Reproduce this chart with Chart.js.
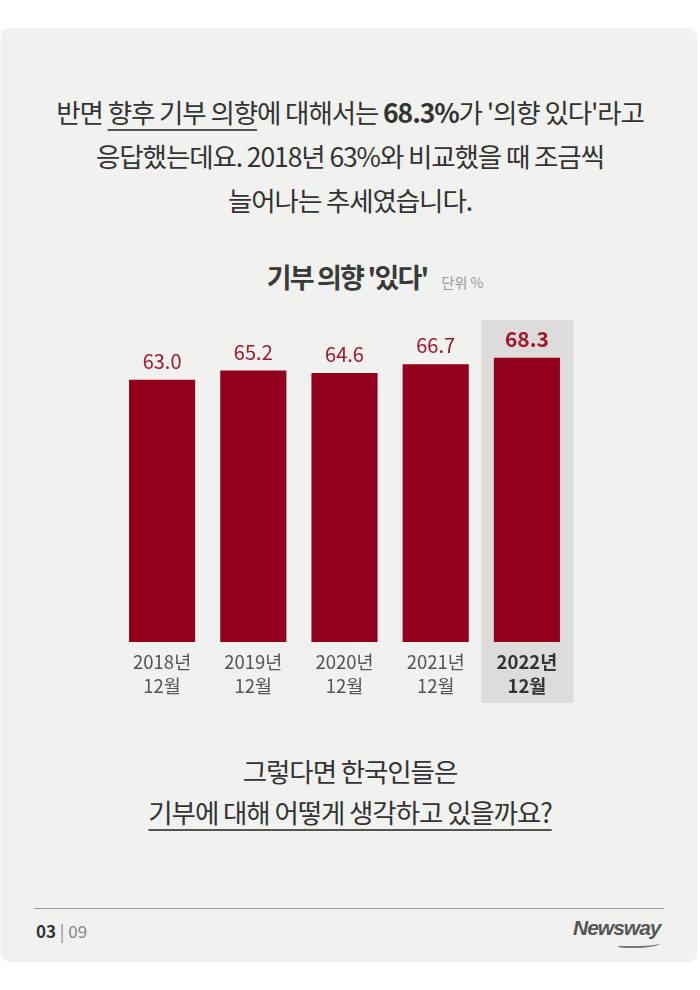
<!DOCTYPE html>
<html><head><meta charset="utf-8">
<script src="https://cdn.jsdelivr.net/npm/chart.js@4"></script>
<style>
html,body{margin:0;padding:0;background:#fff;width:700px;height:990px;overflow:hidden;font-family:"Noto Sans CJK KR","Noto Sans",sans-serif;}
#card{position:absolute;left:1px;top:28px;width:696px;height:934px;border-radius:10px;background:#f1f1ef;box-shadow:0 0 2px rgba(0,0,0,0.08);}
.t{position:absolute;left:0;width:700px;text-align:center;color:#333;}
u{text-decoration:underline;text-decoration-color:#555;text-decoration-thickness:1.5px;text-underline-offset:6px;}
#intro{top:90px;font-size:26.5px;line-height:44px;letter-spacing:-1.1px;}
#ctitle{top:257px;font-size:27px;font-weight:700;letter-spacing:-1.8px;color:#3a3a3a;padding-left:50px;box-sizing:border-box;}
#ctitle span{font-size:14px;font-weight:400;color:#999;margin-left:14px;letter-spacing:0;}
#outro{top:750px;font-size:26.5px;line-height:41px;letter-spacing:-1.1px;}
#foot{position:absolute;left:34px;top:908px;width:630px;border-top:1px solid #999;}
#page{position:absolute;left:36px;top:918px;font-size:17px;color:#888;}
#page b{color:#333;}
#logo{position:absolute;left:573px;top:916px;font-size:21px;font-weight:700;font-style:italic;color:#555;letter-spacing:-1px;font-family:"Liberation Sans",sans-serif;}
#swoosh{position:absolute;left:618px;top:940px;width:42px;height:6px;border-bottom:2px solid #777;border-radius:0 0 60% 20%;}
#wrap{position:absolute;left:0;top:290px;width:700px;height:430px;}
</style></head>
<body>
<div id="card"></div>
<div class="t" id="intro">반면 <u>향후 기부 의향</u>에 대해서는 <b>68.3%</b>가 '의향 있다'라고<br>응답했는데요. 2018년 63%와 비교했을 때 조금씩<br>늘어나는 추세였습니다.</div>
<div class="t" id="ctitle">기부 의향 '있다'<span>단위 %</span></div>
<div id="wrap"><canvas id="c" width="700" height="430"></canvas></div>
<div class="t" id="outro">그렇다면 한국인들은<br><u>기부에 대해 어떻게 생각하고 있을까요?</u></div>
<div id="foot"></div>
<div id="page"><b>03</b> | 09</div>
<div id="logo">Newsway</div>
<div id="swoosh"></div>
<script>
const categories = [["2018년","12월"],["2019년","12월"],["2020년","12월"],["2021년","12월"],["2022년","12월"]];
const values = [63.0, 65.2, 64.6, 66.7, 68.3];
const valueLabels = ["63.0","65.2","64.6","66.7","68.3"];
const highlightIndex = 4;

const barColor = '#92001d';
const labelColor = '#a3162f';

const highlightPlugin = {
  id:'hl',
  beforeDraw(chart){
    const {ctx, scales:{x}, chartArea} = chart;
    const cx = x.getPixelForValue(highlightIndex);
    const w = (chartArea.right - chartArea.left)/categories.length;
    ctx.save();
    ctx.fillStyle = '#dcdcdb';
    ctx.fillRect(cx - w/2, chartArea.top + 11, w + 1, chartArea.bottom - chartArea.top - 11 + 61);
    ctx.restore();
  }
};
const labelPlugin = {
  id:'vl',
  afterDatasetsDraw(chart){
    const {ctx} = chart;
    const meta = chart.getDatasetMeta(0);
    ctx.save();
    ctx.textAlign='center';
    ctx.textBaseline='alphabetic';
    meta.data.forEach((bar,i)=>{
      const hi = i===highlightIndex;
      ctx.font = (hi?'700 21px':'400 20px') + ' "Noto Sans CJK KR","Noto Sans",sans-serif';
      ctx.fillStyle = labelColor;
      ctx.fillText(valueLabels[i], bar.x, bar.y - 11);
    });
    ctx.restore();
  }
};

new Chart(document.getElementById('c'), {
  type:'bar',
  data:{labels:categories, datasets:[{data:values, backgroundColor:barColor, barPercentage:0.725, categoryPercentage:1.0}]},
  options:{
    responsive:false, animation:false,
    layout:{padding:{left:116.5, right:127.5, top:19, bottom:0}},
    plugins:{legend:{display:false}, tooltip:{enabled:false}},
    scales:{
      y:{display:false, min:0, max:80},
      x:{
        grid:{display:false, drawTicks:false}, border:{display:false},
        afterFit(s){ s.height = 78; },
        ticks:{padding:8, color:(c)=>c.index===highlightIndex?'#333':'#555',
          font:(c)=>({family:'"Noto Sans CJK KR","Noto Sans",sans-serif', size:18.5, weight:c.index===highlightIndex?'700':'400', lineHeight:1.3})}
      }
    }
  },
  plugins:[highlightPlugin, labelPlugin]
});
</script>
</body></html>
